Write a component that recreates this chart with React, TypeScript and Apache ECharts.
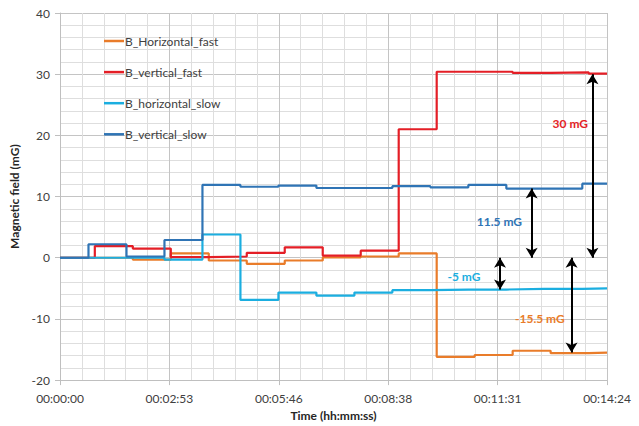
import React, { useEffect, useRef } from "react";
import * as echarts from "echarts";

// ---- data ----
const seriesNames = ["B_Horizontal_fast", "B_vertical_fast", "B_horizontal_slow", "B_vertical_slow"];

// change times in seconds (value i holds from time i to time i+1)
const fastTimes = [0, 55, 115, 175, 235, 295, 355, 415, 475, 535, 595, 655, 715, 775, 835, 864];
const slowTimes = [0, 45, 105, 165, 225, 285, 345, 405, 465, 525, 585, 645, 705, 765, 825, 864];

const horizontalFast = [0, 0, -0.3, 0.7, -0.45, -1.0, -0.45, 0.05, 0.2, 0.7, -16.2, -15.9, -15.2, -15.6, -15.5, -15.5];
const verticalFast = [0, 1.9, 1.5, 0.1, 0.2, 0.8, 1.7, 0.35, 1.15, 21.0, 30.4, 30.4, 30.2, 30.3, 30.1, 30.1];
const horizontalSlow = [0, 0, 0, -0.3, 3.8, -6.9, -5.7, -6.2, -5.7, -5.3, -5.2, -5.2, -5.1, -5.1, -5.0, -5.0];
const verticalSlow = [0, 2.2, 0.2, 2.9, 11.9, 11.6, 11.8, 11.4, 11.4, 11.7, 11.5, 11.9, 11.3, 11.3, 12.1, 12.1];

const xTickLabels = ["00:00:00", "00:02:53", "00:05:46", "00:08:38", "00:11:31", "00:14:24"];
const xMax = 864;
const xStep = 172.8;

// annotations (double arrows) in data units
const arrowTimes = [841, 745, 695, 808];
const arrowFrom = [0, 0, 0, 0];
const arrowTo = [30, 11.3, -5.2, -15.5];
const annotationTexts = ["30 mG", "11.5 mG", "-5 mG", "-15.5 mG"];
const annotationTimes = [806, 694, 638, 758];
const annotationValues = [21.9, 6.0, -3.1, -9.9];

const COLORS = ["#E97C2A", "#E41E26", "#1BAEE0", "#2F74B5"];
const FONT = "Lato, 'Open Sans', sans-serif";

function pairs(times: number[], vals: number[]) {
  return times.map((t, i) => [t, vals[i]]);
}

export default function App() {
  const ref = useRef<HTMLDivElement>(null);
  useEffect(() => {
    if (!ref.current) return;
    const chart = echarts.init(ref.current, undefined, { renderer: "svg" });
    const seriesData = [
      pairs(fastTimes, horizontalFast),
      pairs(fastTimes, verticalFast),
      pairs(slowTimes, horizontalSlow),
      pairs(slowTimes, verticalSlow),
    ];
    const annColors = [COLORS[1], COLORS[3], COLORS[2], COLORS[0]];
    const option: any = {
      animation: false,
      backgroundColor: "#ffffff",
      textStyle: { fontFamily: FONT },
      grid: { left: 60, top: 13, width: 547, height: 370, containLabel: false },
      legend: {
        data: seriesNames.map((n) => ({ name: n, icon: "rect" })),
        orient: "vertical",
        left: 104,
        top: 35,
        padding: 0,
        itemWidth: 20,
        itemHeight: 2.5,
        itemGap: 19.1,
        textStyle: { color: "#404040", fontSize: 12, fontFamily: FONT, padding: [0, 0, 0, -4] },
      },
      xAxis: {
        type: "value",
        min: 0,
        max: xMax,
        interval: xStep,
        name: "Time (hh:mm:ss)",
        nameLocation: "middle",
        nameGap: 27,
        nameTextStyle: { fontWeight: "bold", fontSize: 12, color: "#262626", fontFamily: FONT },
        axisLine: { onZero: false, lineStyle: { color: "#bfbfbf", width: 1 } },
        axisTick: { show: true, length: 5, lineStyle: { color: "#bfbfbf" } },
        axisLabel: {
          color: "#404040",
          fontSize: 12,
          margin: 12,
          fontFamily: FONT,
          formatter: (v: number) => xTickLabels[Math.round(v / xStep)] ?? "",
        },
        splitLine: { show: true, lineStyle: { color: "#c4c4c4", width: 1 } },
        minorTick: { show: false, splitNumber: 5 },
        minorSplitLine: { show: true, lineStyle: { color: "#dedede", width: 1 } },
      },
      yAxis: {
        type: "value",
        min: -20,
        max: 40,
        interval: 10,
        name: "Magnetic field (mG)",
        nameLocation: "middle",
        nameGap: 34,
        nameTextStyle: { fontWeight: "bold", fontSize: 12, color: "#262626", fontFamily: FONT },
        axisLine: { show: true, lineStyle: { color: "#bfbfbf", width: 1 } },
        axisTick: { show: true, length: 5, lineStyle: { color: "#bfbfbf" } },
        axisLabel: { color: "#404040", fontSize: 12, margin: 10, fontFamily: FONT },
        splitLine: { show: true, lineStyle: { color: "#c4c4c4", width: 1 } },
        minorTick: { show: false, splitNumber: 5 },
        minorSplitLine: { show: true, lineStyle: { color: "#dedede", width: 1 } },
      },
      series: [
        ...seriesNames.map((name, i) => ({
          name,
          type: "line",
          step: "end",
          symbol: "none",
          data: seriesData[i],
          color: COLORS[i],
          itemStyle: { color: COLORS[i] },
          lineStyle: { color: COLORS[i], width: 2.2 },
          emphasis: { disabled: true },
        })),
        {
          name: "annotations",
          type: "line",
          data: [],
          silent: true,
          markLine: {
            silent: true,
            symbol: ["arrow", "arrow"],
            symbolSize: [9, 10],
            label: { show: false },
            emphasis: { disabled: true },
            lineStyle: { color: "#000000", width: 2, type: "solid" },
            data: arrowTimes.map((t, i) => [
              { coord: [t, arrowFrom[i]] },
              { coord: [t, arrowTo[i]] },
            ]),
          },
          markPoint: {
            silent: true,
            symbol: "circle",
            symbolSize: 0,
            itemStyle: { color: "transparent" },
            data: annotationTexts.map((txt, i) => ({
              coord: [annotationTimes[i], annotationValues[i]],
              value: txt,
              label: {
                show: true,
                position: "inside",
                formatter: txt,
                color: annColors[i],
                fontWeight: "bold",
                fontSize: 12,
                fontFamily: FONT,
              },
            })),
          },
        },
      ],
    };
    chart.setOption(option);
    return () => chart.dispose();
  }, []);
  return (
    <div
      ref={ref}
      style={{ position: "fixed", left: 0, top: 0, width: 639, height: 426, background: "#fff" }}
    />
  );
}
